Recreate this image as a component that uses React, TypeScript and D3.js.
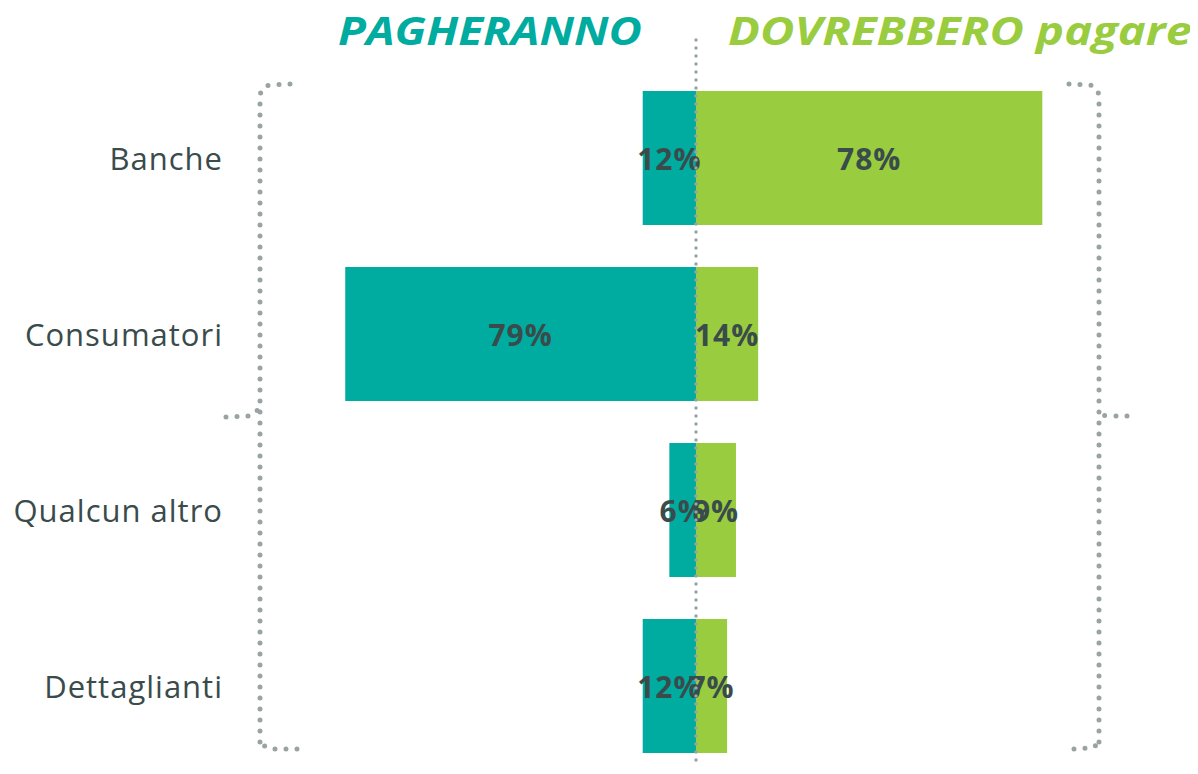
import React from "react";
import * as d3 from "d3";

const categories = ["Banche", "Consumatori", "Qualcun altro", "Dettaglianti"];
const pagheranno = [12, 79, 6, 12];
const dovrebbero = [78, 14, 9, 7];
const titleLeft = "PAGHERANNO";
const titleRight = "DOVREBBERO pagare";

const W = 1198;
const H = 774;
const TEAL = "#00aba0";
const GREEN = "#99cc3f";
const DOT = "#9aa3a3";
const TEXT = "#3a4b4b";
const FONT = "'Open Sans', 'Noto Sans', sans-serif";

export default function App() {
  const cx = 696;
  const xL = d3.scaleLinear().domain([0, 100]).range([cx, cx - 444]);
  const xR = d3.scaleLinear().domain([0, 100]).range([cx, cx + 444]);
  const y = d3
    .scaleBand<string>()
    .domain(categories)
    .range([91, 753])
    .paddingInner(42 / 176)
    .paddingOuter(0);
  const dot = { stroke: DOT, strokeWidth: 5, strokeLinecap: "round" as const, strokeDasharray: "0 11", fill: "none" };

  return (
    <div style={{ margin: -8 }}>
      <svg width={W} height={H} style={{ display: "block", background: "#fff" }}>
        {categories.map((c, i) => {
          const y0 = y(c)!;
          const bh = y.bandwidth();
          return (
            <g key={c}>
              <rect x={xL(pagheranno[i])} y={y0} width={xL(0) - xL(pagheranno[i])} height={bh} fill={TEAL} />
              <rect x={xR(0)} y={y0} width={xR(dovrebbero[i]) - xR(0)} height={bh} fill={GREEN} />
              <text x={223} y={y0 + bh / 2} textAnchor="end" dominantBaseline="central" fontFamily={FONT} fontSize={31} letterSpacing={1} fill={TEXT}>
                {c}
              </text>
            </g>
          );
        })}
        {categories.map((c, i) => {
          const y0 = y(c)!;
          const bh = y.bandwidth();
          return (
            <g key={c + "l"} fontFamily={FONT} fontSize={30} fontWeight={700} letterSpacing={1} fill={TEXT} textAnchor="middle">
              <text x={(xL(pagheranno[i]) + xL(0)) / 2} y={y0 + bh / 2} dominantBaseline="central">
                {pagheranno[i]}%
              </text>
              <text x={(xR(dovrebbero[i]) + xR(0)) / 2} y={y0 + bh / 2} dominantBaseline="central">
                {dovrebbero[i]}%
              </text>
            </g>
          );
        })}
        <line x1={cx} x2={cx} y1={40} y2={774} {...dot} strokeWidth={3.5} strokeDasharray="0 8" />
        {/* left bracket */}
        <path d="M290,84 L270,85 Q260,87 260,98 L260,745" {...dot} />
        <path d="M226,417 L250,416 Q258,412 260,405" {...dot} />
        <path d="M297,749 L272,749 Q262,748 260,737" {...dot} />
        {/* right bracket */}
        <path d="M1069,84 L1090,85 Q1099,88 1099,98 L1099,745" {...dot} />
        <path d="M1127,416 L1110,416 Q1101,414 1099,420" {...dot} />
        <path d="M1074,749 L1090,748 Q1098,747 1099,737" {...dot} />
        <text x={338} y={45} fontFamily={FONT} fontSize={40} fontWeight={700} fontStyle="italic" fill={TEAL} textLength={304} lengthAdjust="spacingAndGlyphs">
          {titleLeft}
        </text>
        <text x={728} y={45} fontFamily={FONT} fontSize={40} fontWeight={700} fontStyle="italic" fill={GREEN} textLength={464} lengthAdjust="spacingAndGlyphs">
          {titleRight}
        </text>
      </svg>
    </div>
  );
}
